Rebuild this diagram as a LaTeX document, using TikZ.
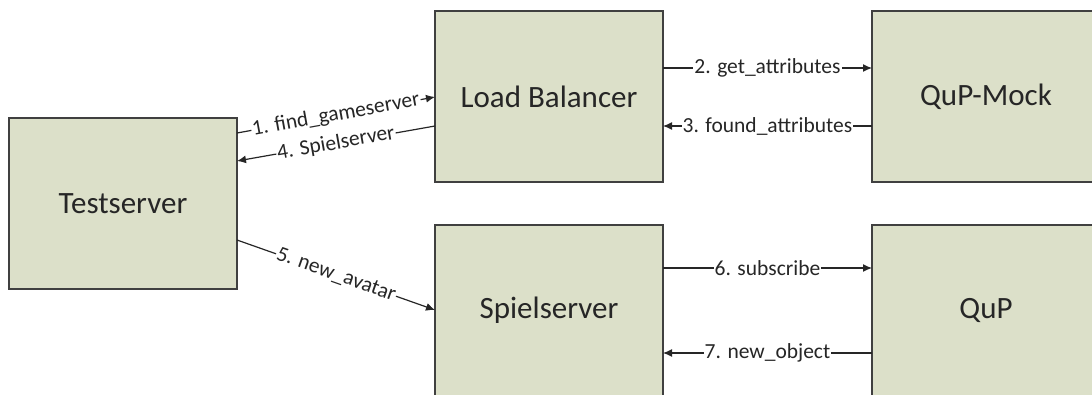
\documentclass[tikz,border=0pt]{standalone}
\usepackage{fontspec}
\setmainfont{Carlito}
\usetikzlibrary{arrows.meta}
\definecolor{boxfill}{RGB}{220,224,201}
\definecolor{boxline}{RGB}{64,64,64}
\begin{document}
\begin{tikzpicture}[x=1pt,y=-1pt,
  server/.style={draw=boxline,line width=1.5pt,fill=boxfill},
  title/.style={font=\fontsize{31}{36}\selectfont,text=black!85},
  msg/.style={draw=black!85,line width=1.2pt,-{Latex[length=9pt,width=8pt]}},
  lbl/.style={fill=white,inner sep=1pt,font=\fontsize{21.5}{24}\selectfont,text=black!85}]
\useasboundingbox (0,0) rectangle (1092,394);
\begin{scope}
\clip (0,0) rectangle (1092,394);
% servers
\draw[server] (9,118) rectangle (237,289);
\node[title] (test) at (123,203.5) {Testserver};
\draw[server] (435,11) rectangle (663,182);
\node[title] (lb) at (549,96.5) {Load Balancer};
\draw[server] (872,11) rectangle (1100,182);
\node[title] (mock) at (986,96.5) {QuP-Mock};
\draw[server] (435,225) rectangle (663,400);
\node[title] (spiel) at (549,310) {Spielserver};
\draw[server] (872,225) rectangle (1100,400);
\node[title] (qup) at (986,310) {QuP};
\end{scope}
% anchor points on the box edges
\coordinate (t1) at (237,133);
\coordinate (t4) at (237,161);
\coordinate (t5) at (237,240);
\coordinate (l1) at (435,97);
\coordinate (l4) at (435,126);
\coordinate (l2) at (663,68);
\coordinate (l3) at (663,126);
\coordinate (m2) at (872,68);
\coordinate (m3) at (872,126);
\coordinate (s5) at (435,310);
\coordinate (s6) at (663,268);
\coordinate (s7) at (663,353);
\coordinate (q6) at (872,268);
\coordinate (q7) at (872,353);
% messages
\draw[msg] (t1) -- node[lbl,sloped] {1. find\_gameserver} (l1);
\draw[msg] (l2) -- node[lbl] {2. get\_attributes} (m2);
\draw[msg] (m3) -- node[lbl] {3. found\_attributes} (l3);
\draw[msg] (l4) -- node[lbl,sloped] {4. Spielserver} (t4);
\draw[msg] (t5) -- node[lbl,sloped] {5. new\_avatar} (s5);
\draw[msg] (s6) -- node[lbl] {6. subscribe} (q6);
\draw[msg] (q7) -- node[lbl] {7. new\_object} (s7);
\end{tikzpicture}
\end{document}
